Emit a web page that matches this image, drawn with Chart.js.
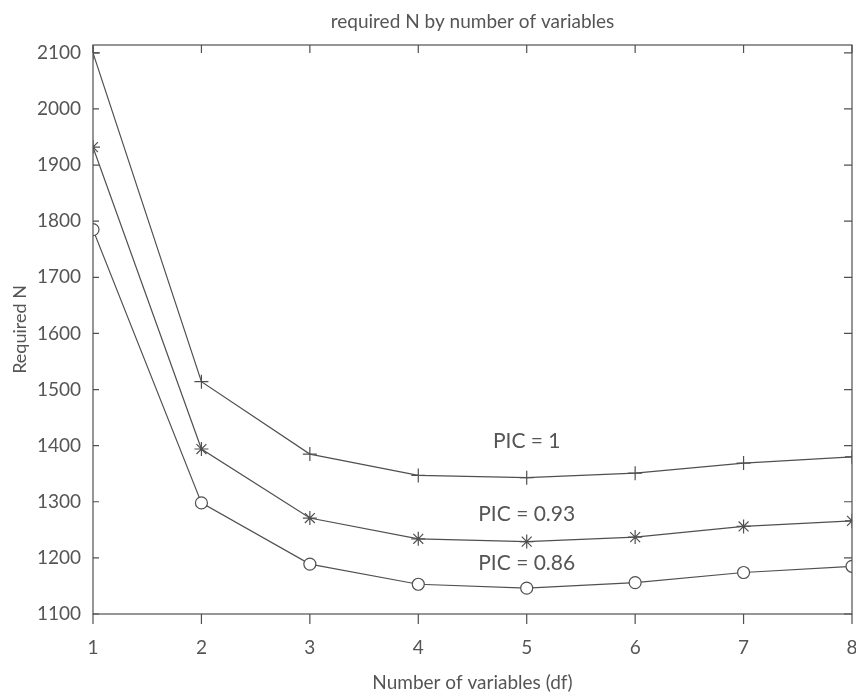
<!DOCTYPE html>
<html><head><meta charset="utf-8">
<script src="https://cdn.jsdelivr.net/npm/chart.js@4"></script>
<style>html,body{margin:0;padding:0;background:#fff}</style>
</head><body>
<canvas id="c" width="856" height="695"></canvas>
<script>
const xValues = [1, 2, 3, 4, 5, 6, 7, 8];
const seriesNames = ['PIC = 1', 'PIC = 0.93', 'PIC = 0.86'];
const pic100 = [2100, 1514, 1385, 1347, 1343, 1351, 1369, 1380];
const pic093 = [1932, 1394, 1271, 1234, 1229, 1237, 1256, 1266];
const pic086 = [1785, 1298, 1189, 1153, 1146, 1156, 1174, 1185];
const yTickValues = [1100, 1200, 1300, 1400, 1500, 1600, 1700, 1800, 1900, 2000, 2100];
const xTickValues = [1, 2, 3, 4, 5, 6, 7, 8];
const titleText = 'required N by number of variables';
const xTitle = 'Number of variables (df)';
const yTitle = 'Required N';
const labelAnchors = [{x: 5, y: 1407}, {x: 5, y: 1278}, {x: 5, y: 1191}];

const INK = '#555555';
const LINE = '#505050';
const FONT = 'Lato, "Open Sans", sans-serif';

function toXY(vals){ return xValues.map((x,i)=>({x:x, y:vals[i]})); }

const framePlugin = {
  id: 'frame',
  afterDraw(chart){
    const {ctx, chartArea:a, scales:{x, y}} = chart;
    ctx.save();
    ctx.strokeStyle = LINE;
    ctx.lineWidth = 1.2;
    ctx.strokeRect(a.left, a.top, a.right - a.left, a.bottom - a.top);
    const L = 8;
    ctx.beginPath();
    xTickValues.forEach(v=>{
      const px = x.getPixelForValue(v);
      ctx.moveTo(px, a.bottom); ctx.lineTo(px, a.bottom + L + 2);
      ctx.moveTo(px, a.top); ctx.lineTo(px, a.top + L);
    });
    yTickValues.forEach(v=>{
      const py = y.getPixelForValue(v);
      ctx.moveTo(a.left, py); ctx.lineTo(a.left + L - 2, py);
      ctx.moveTo(a.right, py); ctx.lineTo(a.right - L, py);
    });
    ctx.stroke();
    // title
    ctx.fillStyle = INK;
    ctx.font = '19px ' + FONT;
    ctx.textAlign = 'center';
    ctx.textBaseline = 'middle';
    ctx.fillText(titleText, (a.left + a.right)/2, 22);
    // series labels
    ctx.font = '21px ' + FONT;
    labelAnchors.forEach((p,i)=>{
      ctx.fillText(seriesNames[i], x.getPixelForValue(p.x), y.getPixelForValue(p.y));
    });
    ctx.restore();
  }
};

const common = {borderColor: LINE, borderWidth: 1.2, pointBorderColor: LINE, pointBorderWidth: 1.2, tension: 0, fill: false};

new Chart(document.getElementById('c'), {
  type: 'line',
  data: {
    datasets: [
      Object.assign({label: seriesNames[0], data: toXY(pic100), pointStyle: 'cross', pointRadius: 7, pointBackgroundColor: 'rgba(0,0,0,0)'}, common),
      Object.assign({label: seriesNames[1], data: toXY(pic093), pointStyle: 'star', pointRadius: 7, pointBackgroundColor: 'rgba(0,0,0,0)'}, common),
      Object.assign({label: seriesNames[2], data: toXY(pic086), pointStyle: 'circle', pointRadius: 6, pointBackgroundColor: '#ffffff'}, common)
    ]
  },
  options: {
    responsive: false,
    devicePixelRatio: 1,
    animation: false,
    layout: {autoPadding: false, padding: {top: 45, right: 4, left: 0, bottom: 0}},
    plugins: {legend: {display: false}, tooltip: {enabled: false}, title: {display: false}},
    scales: {
      x: {
        type: 'linear', min: 1, max: 8,
        grid: {display: false, drawTicks: false},
        border: {display: false},
        afterBuildTicks(s){ s.ticks = xTickValues.map(v=>({value: v})); },
        afterFit(s){ s.height = 81; s.paddingLeft = 0; s.paddingRight = 0; },
        ticks: {color: INK, font: {family: FONT, size: 19}, padding: 22, maxRotation: 0, callback: v => String(v)},
        title: {display: true, text: xTitle, color: INK, font: {family: FONT, size: 19}, padding: {top: 0, bottom: 1}}
      },
      y: {
        type: 'linear', min: 1100, max: 2114,
        grid: {display: false, drawTicks: false},
        border: {display: false},
        afterBuildTicks(s){ s.ticks = yTickValues.map(v=>({value: v})); },
        afterFit(s){ s.width = 93; s.paddingTop = 0; s.paddingBottom = 0; },
        ticks: {color: INK, font: {family: FONT, size: 19}, padding: 12, callback: v => String(v)},
        title: {display: true, text: yTitle, color: INK, font: {family: FONT, size: 18}, padding: {top: 9, bottom: 0}}
      }
    }
  },
  plugins: [framePlugin]
});
</script>
</body></html>
